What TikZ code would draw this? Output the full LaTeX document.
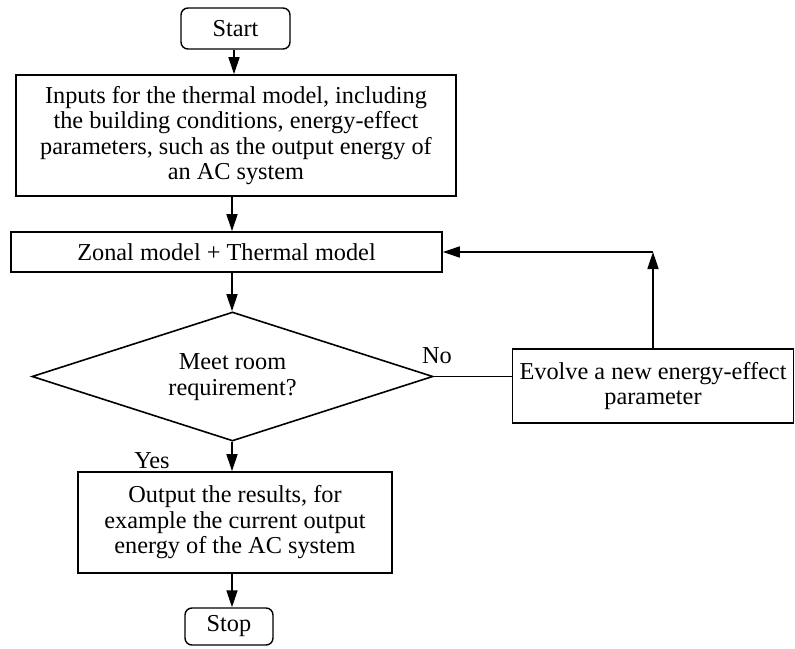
\documentclass[tikz,border=0pt]{standalone}
\usepackage{fontspec}
\setmainfont{Liberation Serif}
\usetikzlibrary{arrows.meta,shapes.geometric}
\begin{document}
\begin{tikzpicture}[x=1pt,y=-1pt,
  every node/.style={font=\fontsize{24.3}{25.5}\selectfont},
  proc/.style={draw,line width=1.7pt,align=center,inner sep=0pt},
  term/.style={draw,line width=1.4pt,rounded corners=7pt,align=center,inner sep=0pt},
  dec/.style={draw,line width=1.6pt,diamond,align=center,inner sep=0pt},
  arr/.style={line width=1.7pt,-{Triangle[length=17pt,width=11pt]}},
  ln/.style={line width=1.6pt},
  lbl/.style={inner sep=0pt}]
\useasboundingbox (0,0) rectangle (795,648);
\node[term,minimum width=109pt,minimum height=41pt] (start) at (235.5,28.5) {Start};
\node[proc,minimum width=440pt,minimum height=121pt] (inp) at (236,135.5)
  {Inputs for the thermal model, including\\the building conditions, energy-effect\\parameters, such as the output energy of\\an AC system};
\node[proc,minimum width=431pt,minimum height=40pt] (zon) at (226.5,252) {Zonal model + Thermal model};
\node[dec,minimum width=401pt,minimum height=129pt,aspect=3.1] (dia) at (232.5,376.5) {};
\node[align=center,inner sep=0pt] (diat) at (232.5,377) {Meet room\\requirement?};
\node[proc,minimum width=281pt,minimum height=74pt] (evo) at (653,386) {Evolve a new energy-effect\\parameter};
\node[proc,minimum width=314pt,minimum height=101pt] (out) at (235,522.5)
  {Output the results, for\\example the current output\\energy of the AC system};
\node[term,minimum width=88pt,minimum height=37pt] (stop) at (229,626.5) {Stop};
\node[lbl] (no) at (437,356) {No};
\node[lbl] (yes) at (152,461) {Yes};
\coordinate (c1) at (234,0);
\coordinate (c2) at (232,0);
\draw[arr] (start.south -| c1) -- (inp.north -| c1);
\draw[arr] (inp.south -| c2) -- (zon.north -| c2);
\draw[arr] (zon.south -| c2) -- (dia.north -| c2);
\draw[arr] (dia.south -| c2) -- (out.north -| c2);
\draw[arr] (out.south -| c2) -- (stop.north -| c2);
\draw[ln] (dia.east) -- (dia.east -| evo.west);
\coordinate (corner) at (evo.north |- zon.east);
\draw[arr] (evo.north) -- (corner);
\draw[arr] (corner) -- (zon.east);
\end{tikzpicture}
\end{document}
